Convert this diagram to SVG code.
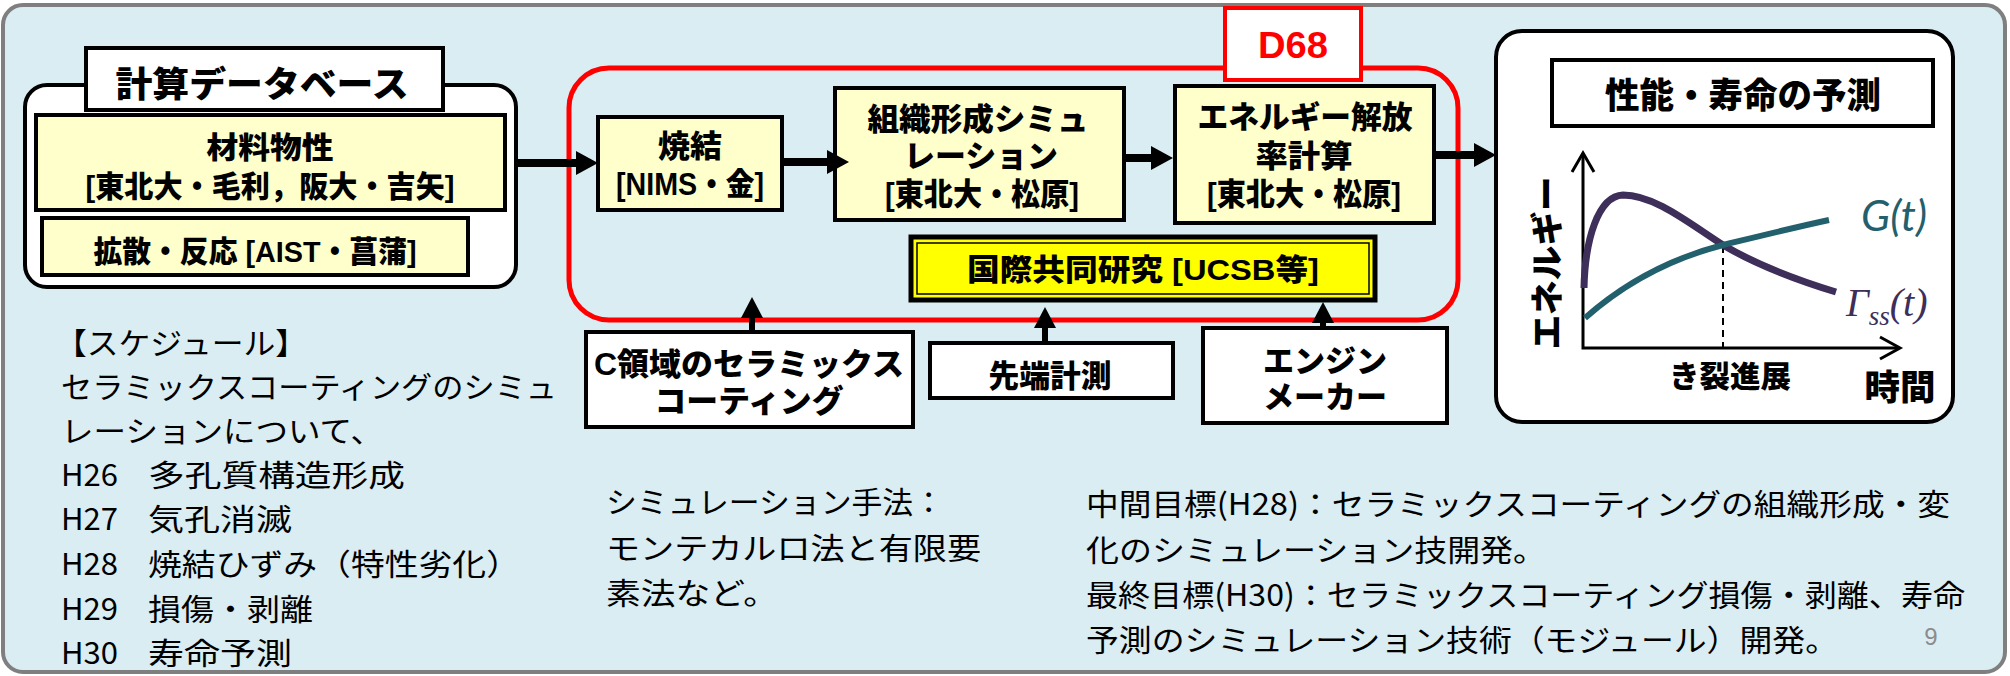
<svg xmlns="http://www.w3.org/2000/svg" width="2010" height="676" viewBox="0 0 2010 676">
<style>
.bx{font-family:"Liberation Sans","Noto Sans CJK JP",sans-serif;font-weight:900;fill:#000}
.rg{font-family:"Noto Sans CJK JP","Noto Sans",sans-serif;font-weight:400;fill:#000;font-size:30px}
.yb{fill:#FFFFCC;stroke:#000;stroke-width:4}
.wb{fill:#FFFFFF;stroke:#000;stroke-width:4}
.arr{stroke:#000;stroke-width:8;fill:none}
.arrv{stroke:#000;stroke-width:6;fill:none}
.ax{stroke:#000;stroke-width:3;fill:none}
</style>
<defs>
<marker id="ah" viewBox="0 -12 22 24" refX="0" refY="0" markerWidth="22" markerHeight="24" markerUnits="userSpaceOnUse" orient="auto">
<path d="M0,-12 L22,0 L0,12 z" fill="#000"/>
</marker>
<marker id="ahv" viewBox="0 -11 21 22" refX="0" refY="0" markerWidth="21" markerHeight="22" markerUnits="userSpaceOnUse" orient="auto">
<path d="M0,-11 L21,0 L0,11 z" fill="#000"/>
</marker>
</defs>

<rect id="panel" x="3" y="5" width="2002" height="667" rx="20" fill="#DAEDF3" stroke="#7F7F7F" stroke-width="4"/>

<g id="d68-frame">
<rect x="569" y="68" width="889" height="252" rx="40" fill="none" stroke="#FF0000" stroke-width="5"/>
</g>

<g id="database">
<rect x="25" y="85" width="491" height="202" rx="22" fill="#FFFFFF" stroke="#000" stroke-width="4"/>
<rect x="86" y="48" width="357" height="62" fill="#FFFFFF" stroke="#000" stroke-width="4"/>
<text class="bx" x="262" y="97" font-size="35" text-anchor="middle" textLength="293" lengthAdjust="spacingAndGlyphs">計算データベース</text>
</g>
<g id="material">
<rect class="yb" x="36" y="115" width="469" height="95"/>
<text class="bx" x="270" y="158" font-size="30" text-anchor="middle" textLength="127" lengthAdjust="spacingAndGlyphs">材料物性</text>
<text class="bx" x="270" y="197" font-size="30" text-anchor="middle" textLength="369" lengthAdjust="spacingAndGlyphs">[東北大・毛利，阪大・吉矢]</text>
</g>
<g id="diffusion">
<rect class="yb" x="42" y="218" width="426" height="57"/>
<text class="bx" x="255" y="262" font-size="30" text-anchor="middle" textLength="323" lengthAdjust="spacingAndGlyphs">拡散・反応 [AIST・菖蒲]</text>
</g>

<g id="sintering">
<rect class="yb" x="598" y="117" width="184" height="93"/>
<text class="bx" x="690" y="157" font-size="31" text-anchor="middle" textLength="64" lengthAdjust="spacingAndGlyphs">焼結</text>
<text class="bx" x="690" y="195" font-size="31" text-anchor="middle" textLength="148" lengthAdjust="spacingAndGlyphs">[NIMS・金]</text>
</g>
<g id="microstructure">
<rect class="yb" x="835" y="88" width="289" height="132"/>
<text class="bx" x="978" y="130" font-size="31" text-anchor="middle" textLength="221" lengthAdjust="spacingAndGlyphs">組織形成シミュ</text>
<text class="bx" x="981" y="167" font-size="31" text-anchor="middle" textLength="154" lengthAdjust="spacingAndGlyphs">レーション</text>
<text class="bx" x="982" y="205" font-size="31" text-anchor="middle" textLength="194" lengthAdjust="spacingAndGlyphs">[東北大・松原]</text>
</g>
<g id="energy">
<rect class="yb" x="1175" y="86" width="259" height="137"/>
<text class="bx" x="1305" y="128" font-size="31" text-anchor="middle" textLength="215" lengthAdjust="spacingAndGlyphs">エネルギー解放</text>
<text class="bx" x="1304" y="167" font-size="31" text-anchor="middle" textLength="97" lengthAdjust="spacingAndGlyphs">率計算</text>
<text class="bx" x="1304" y="205" font-size="31" text-anchor="middle" textLength="194" lengthAdjust="spacingAndGlyphs">[東北大・松原]</text>
</g>
<g id="intl">
<rect x="911" y="237" width="464" height="63" fill="#FFFF00" stroke="#000" stroke-width="5"/>
<rect x="917" y="243" width="452" height="51" fill="none" stroke="#000" stroke-width="1.5"/>
<text class="bx" x="1143" y="280" font-size="30" text-anchor="middle" textLength="352" lengthAdjust="spacingAndGlyphs">国際共同研究 [UCSB等]</text>
</g>
<g id="d68-label">
<rect x="1225" y="8" width="136" height="72" fill="#FFFFFF" stroke="#FF0000" stroke-width="4"/>
<text class="bx" x="1293" y="58" font-size="37" style="fill:#FF0000" text-anchor="middle" textLength="70" lengthAdjust="spacingAndGlyphs">D68</text>
</g>

<g id="c-area">
<rect class="wb" x="586" y="332" width="327" height="95"/>
<text class="bx" x="749" y="375" font-size="31" text-anchor="middle" textLength="310" lengthAdjust="spacingAndGlyphs">C領域のセラミックス</text>
<text class="bx" x="749" y="412" font-size="31" text-anchor="middle" textLength="189" lengthAdjust="spacingAndGlyphs">コーティング</text>
</g>
<g id="measurement">
<rect class="wb" x="930" y="343" width="243" height="55"/>
<text class="bx" x="1050" y="387" font-size="31" text-anchor="middle" textLength="123" lengthAdjust="spacingAndGlyphs">先端計測</text>
</g>
<g id="engine">
<rect class="wb" x="1203" y="328" width="244" height="95"/>
<text class="bx" x="1325" y="372" font-size="31" text-anchor="middle" textLength="124" lengthAdjust="spacingAndGlyphs">エンジン</text>
<text class="bx" x="1325" y="408" font-size="31" text-anchor="middle" textLength="124" lengthAdjust="spacingAndGlyphs">メーカー</text>
</g>

<g id="prediction">
<rect x="1496" y="31" width="457" height="391" rx="26" fill="#FFFFFF" stroke="#000" stroke-width="4"/>
<rect x="1552" y="60" width="381" height="66" fill="#FFFFFF" stroke="#000" stroke-width="4"/>
<text class="bx" x="1743" y="108" font-size="35" text-anchor="middle" textLength="276" lengthAdjust="spacingAndGlyphs">性能・寿命の予測</text>
<path class="ax" d="M1583,155 L1583,348 L1899,348"/>
<path class="ax" d="M1572,172 L1583,153 L1594,172"/>
<path class="ax" d="M1880,337 L1900,348 L1880,359"/>
<path d="M1723,246 L1723,348" stroke="#000" stroke-width="2" stroke-dasharray="7,5" fill="none"/>
<path d="M1584,288 C1585,240 1598,196 1623,195 C1655,195 1690,224 1723,245 C1760,267 1800,281 1836,292" stroke="#3D2E5A" stroke-width="7" fill="none"/>
<path d="M1585,318 C1620,287 1665,260 1723,245 C1760,236 1792,228 1829,220" stroke="#22606E" stroke-width="6" fill="none"/>
<text x="1861" y="231" font-family="Lato,'Liberation Sans',sans-serif" font-style="italic" font-size="42" fill="#22606E" textLength="66" lengthAdjust="spacingAndGlyphs">G(t)</text>
<text x="1846" y="316" font-family="'Liberation Serif',serif" font-style="italic" font-size="40" fill="#3D2E5A">Γ<tspan font-size="27" dy="9">ss</tspan><tspan dy="-9">(t)</tspan></text>
<text class="bx" transform="translate(1559,263) rotate(-90)" x="0" y="0" font-size="33" text-anchor="middle" textLength="173" lengthAdjust="spacingAndGlyphs">エネルギー</text>
<text class="bx" x="1730" y="387" font-size="30" text-anchor="middle" textLength="122" lengthAdjust="spacingAndGlyphs">き裂進展</text>
<text class="bx" x="1900" y="400" font-size="35" text-anchor="middle" textLength="71" lengthAdjust="spacingAndGlyphs">時間</text>
</g>

<g id="connectors">
<line class="arr" x1="516" y1="163" x2="576" y2="163" marker-end="url(#ah)"/>
<line class="arr" x1="782" y1="162" x2="827" y2="162" marker-end="url(#ah)"/>
<line class="arr" x1="1124" y1="158" x2="1151" y2="158" marker-end="url(#ah)"/>
<line class="arr" x1="1434" y1="155" x2="1474" y2="155" marker-end="url(#ah)"/>
<line class="arrv" x1="752" y1="332" x2="752" y2="318" marker-end="url(#ahv)"/>
<line class="arrv" x1="1045" y1="343" x2="1045" y2="328" marker-end="url(#ahv)"/>
<line class="arrv" x1="1323" y1="328" x2="1323" y2="323" marker-end="url(#ahv)"/>
</g>

<g id="schedule">
<text class="rg" x="55" y="354" textLength="252" lengthAdjust="spacingAndGlyphs">【スケジュール】</text>
<text class="rg" x="61" y="398" textLength="496" lengthAdjust="spacingAndGlyphs">セラミックスコーティングのシミュ</text>
<text class="rg" x="61" y="442" textLength="322" lengthAdjust="spacingAndGlyphs">レーションについて、</text>
<text class="rg" x="61" y="486" textLength="57" lengthAdjust="spacingAndGlyphs">H26</text>
<text class="rg" x="148" y="486" textLength="257" lengthAdjust="spacingAndGlyphs">多孔質構造形成</text>
<text class="rg" x="61" y="530" textLength="57" lengthAdjust="spacingAndGlyphs">H27</text>
<text class="rg" x="148" y="530" textLength="144" lengthAdjust="spacingAndGlyphs">気孔消滅</text>
<text class="rg" x="61" y="575" textLength="57" lengthAdjust="spacingAndGlyphs">H28</text>
<text class="rg" x="148" y="575" textLength="372" lengthAdjust="spacingAndGlyphs">焼結ひずみ（特性劣化）</text>
<text class="rg" x="61" y="620" textLength="57" lengthAdjust="spacingAndGlyphs">H29</text>
<text class="rg" x="148" y="620" textLength="165" lengthAdjust="spacingAndGlyphs">損傷・剥離</text>
<text class="rg" x="61" y="664" textLength="57" lengthAdjust="spacingAndGlyphs">H30</text>
<text class="rg" x="148" y="664" textLength="144" lengthAdjust="spacingAndGlyphs">寿命予測</text>
</g>

<g id="method">
<text class="rg" x="606" y="513" textLength="338" lengthAdjust="spacingAndGlyphs">シミュレーション手法：</text>
<text class="rg" x="606" y="559" textLength="375" lengthAdjust="spacingAndGlyphs">モンテカルロ法と有限要</text>
<text class="rg" x="606" y="604" textLength="172" lengthAdjust="spacingAndGlyphs">素法など。</text>
</g>

<g id="goals">
<text class="rg" x="1086" y="515" textLength="864" lengthAdjust="spacingAndGlyphs">中間目標(H28)：セラミックスコーティングの組織形成・変</text>
<text class="rg" x="1086" y="561" textLength="460" lengthAdjust="spacingAndGlyphs">化のシミュレーション技開発。</text>
<text class="rg" x="1086" y="606" textLength="879" lengthAdjust="spacingAndGlyphs">最終目標(H30)：セラミックスコーティング損傷・剥離、寿命</text>
<text class="rg" x="1086" y="651" textLength="752" lengthAdjust="spacingAndGlyphs">予測のシミュレーション技術（モジュール）開発。</text>
<text x="1931" y="645" font-family="'Liberation Sans',sans-serif" font-size="24" fill="#8C8C8C" text-anchor="middle">9</text>
</g>
</svg>
